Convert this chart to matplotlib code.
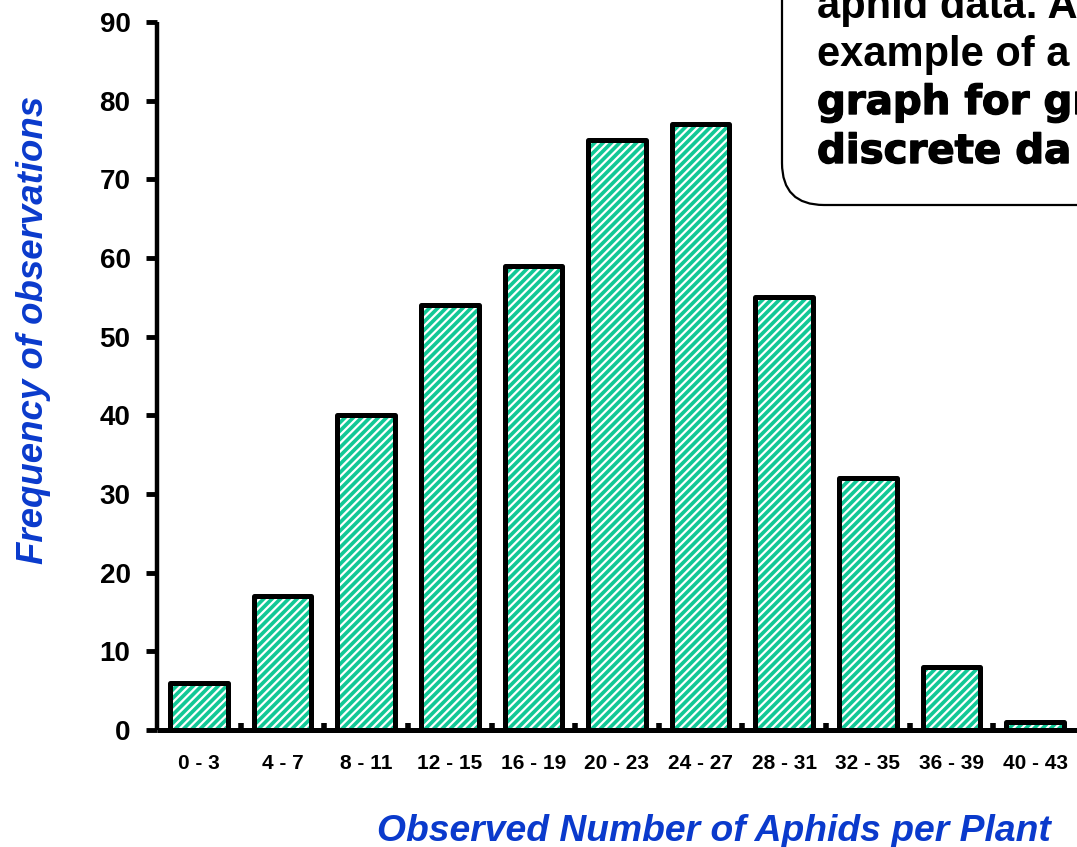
import matplotlib
matplotlib.use("Agg")
import matplotlib.pyplot as plt
import matplotlib.patheffects as pe
from matplotlib.patches import FancyBboxPatch
import numpy as np

categories = ["0 - 3", "4 - 7", "8 - 11", "12 - 15", "16 - 19", "20 - 23",
              "24 - 27", "28 - 31", "32 - 35", "36 - 39", "40 - 43"]
frequencies = [6, 17, 40, 54, 59, 75, 77, 55, 32, 8, 1]
y_ticks = [0, 10, 20, 30, 40, 50, 60, 70, 80, 90]
box_lines = ["aphid data. A", "example of a", "graph for gr", "discrete da"]

BLUE = "#0a3acc"
TEAL = "#12c896"
FONT = "Liberation Sans"

plt.rcParams["font.family"] = [FONT, "DejaVu Sans"]
plt.rcParams["hatch.linewidth"] = 1.6

W, H = 1077, 847
fig = plt.figure(figsize=(W / 100, H / 100), dpi=100)
ax = fig.add_axes([157 / W, 1 - 730 / H, (W - 157) / W, (730 - 22) / H])

x = np.arange(len(categories))
ax.bar(x, frequencies, width=0.69, color=TEAL, edgecolor="white",
       hatch="////", linewidth=0, zorder=2)
ax.bar(x, frequencies, width=0.69, fill=False, edgecolor="black",
       linewidth=3.6, joinstyle="round", zorder=3)

ax.set_xlim(-0.5, 10.5)
ax.set_ylim(0, 90)
ax.set_yticks(y_ticks)
ax.set_yticklabels([str(v) for v in y_ticks], fontsize=20, fontweight="bold")
ax.set_xticks(x)
ax.set_xticklabels(categories, fontsize=15, fontweight="bold")
ax.set_xticks(np.arange(0.5, 10.5, 1.0), minor=True)
ax.tick_params(axis="x", which="major", length=0, pad=17)
ax.tick_params(axis="x", which="minor", direction="in", length=5, width=4)
ax.tick_params(axis="y", which="major", direction="out", length=8, width=3.5, pad=11)

for s in ["top", "right"]:
    ax.spines[s].set_visible(False)
ax.spines["left"].set_linewidth(3.2)
ax.spines["bottom"].set_linewidth(3.6)
for s in ["left", "bottom"]:
    ax.spines[s].set_capstyle("butt")

fig.text(714 / W, 6 / H, "Observed Number of Aphids per Plant", ha="center",
         va="baseline", fontsize=26.8, fontweight="bold", style="italic", color=BLUE)
fig.text(34 / W, 1 - 330 / H, "Frequency of observations", ha="center", va="center",
         rotation=90, fontsize=26.4, fontweight="bold", style="italic", color=BLUE)

# rounded callout box (clipped by figure edge, as in the reference)
box = FancyBboxPatch((7.82, (H - 205) / 100), 5.0, 4.0,
                     boxstyle="round,pad=0,rounding_size=0.42",
                     transform=fig.dpi_scale_trans, facecolor="white",
                     edgecolor="black", linewidth=1.6, zorder=5)
fig.patches.append(box)
baselines = [18, 66, 114, 163]
for i, (line, yb) in enumerate(zip(box_lines, baselines)):
    if i >= 2:
        fig.text(817 / W, 1 - yb / H, line, ha="left", va="baseline", fontsize=29,
                 fontweight="bold", family="DejaVu Sans", color="black", zorder=6,
                 path_effects=[pe.withStroke(linewidth=1.0, foreground="black")])
    else:
        fig.text(817 / W, 1 - yb / H, line, ha="left", va="baseline", fontsize=30,
                 fontweight="bold", color="black", zorder=6)

fig.savefig("out.png", dpi=100)
